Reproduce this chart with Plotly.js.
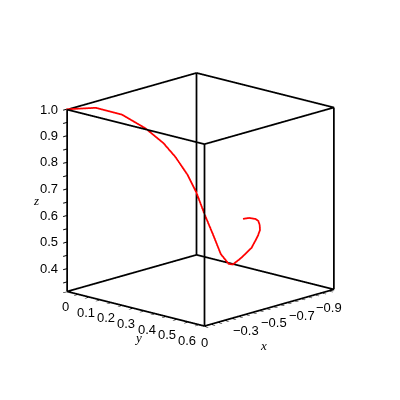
<!DOCTYPE html>
<html><head><meta charset="utf-8">
<script src="https://cdn.plot.ly/plotly-3.0.1.min.js"></script>
<style>html,body{margin:0;padding:0;background:#fff}#c{width:400px;height:400px}</style>
</head><body><div id="c"></div>
<script>
var curveX=[0,-0.122,-0.230,-0.321,-0.380,-0.417,-0.444,-0.459,-0.469,-0.477,-0.495,-0.522,-0.541,-0.596,-0.698,-0.784,-0.822,-0.845,-0.861,-0.864,-0.860,-0.855];
var curveY=[0,0.056,0.107,0.157,0.201,0.232,0.270,0.301,0.332,0.364,0.389,0.408,0.414,0.414,0.401,0.376,0.361,0.345,0.329,0.314,0.288,0.263];
var curveZ=[1,0.999,0.968,0.913,0.858,0.807,0.744,0.681,0.604,0.536,0.463,0.426,0.422,0.436,0.459,0.487,0.500,0.512,0.521,0.525,0.524,0.516];
var xTicks=[0,-0.05,-0.1,-0.15,-0.2,-0.25,-0.3,-0.35,-0.4,-0.45,-0.5,-0.55,-0.6,-0.65,-0.7,-0.75,-0.8,-0.85,-0.9];
var yTicks=[0,0.05,0.1,0.15,0.2,0.25,0.3,0.35,0.4,0.45,0.5,0.55,0.6];
var zTicks=[0.35,0.4,0.45,0.5,0.55,0.6,0.65,0.7,0.75,0.8,0.85,0.9,0.95,1.0];
var xLabelVals=[0,-0.3,-0.5,-0.7,-0.9], xLabelText=['0','−0.3','−0.5','−0.7','−0.9'];
var yLabelVals=[0,0.1,0.2,0.3,0.4,0.5,0.6], yLabelText=['0','0.1','0.2','0.3','0.4','0.5','0.6'];
var zLabelVals=[0.4,0.5,0.6,0.7,0.8,0.9,1.0], zLabelText=['0.4','0.5','0.6','0.7','0.8','0.9','1.0'];
var xRange=[-0.937,0], yRange=[0,0.627], zRange=[0.313,1];
function inset(r){var d=(r[1]-r[0])*0.002;return [r[0]+d,r[1]-d];}
var xE=inset(xRange), yE=inset(yRange), zE=inset(zRange);
function clamp(v,e){return Math.max(e[0],Math.min(e[1],v));}
var ex=[],ey=[],ez=[];
function edge(a,b,c,d,e,f){ex.push(xE[a],xE[d],null);ey.push(yE[b],yE[e],null);ez.push(zE[c],zE[f],null);}
[0,1].forEach(function(i){[0,1].forEach(function(j){
  edge(0,i,j,1,i,j);edge(i,0,j,i,1,j);edge(i,j,0,i,j,1);});});
var font={family:'Liberation Sans',size:13,color:'#000'};
var sceneNotes=[];
zLabelVals.forEach(function(v,i){sceneNotes.push({x:xE[1],y:yE[0],z:clamp(v,zE),text:zLabelText[i],showarrow:false,
  xanchor:'right',xshift:-7,font:font});});
yLabelVals.forEach(function(v,i){sceneNotes.push({x:xE[1],y:clamp(v,yE),z:zE[0],text:yLabelText[i],showarrow:false,
  xshift:-1-17*v,yshift:-16,font:font});});
xLabelVals.forEach(function(v,i){sceneNotes.push({x:clamp(v,xE),y:yE[1],z:zE[0],text:xLabelText[i],showarrow:false,
  xshift:1,yshift:-17,font:font});});
function ax(range,tv){return {
  title:{text:''},
  range:range,autorange:false,tickmode:'array',tickvals:tv,showticklabels:false,
  ticks:'outside',ticklen:5,tickwidth:2,tickcolor:'#000',
  showline:false,showgrid:false,zeroline:false,showbackground:false,showspikes:false};}
function lab(t,px,py){return {text:'<i>'+t+'</i>',xref:'paper',yref:'paper',x:px/400,y:1-py/400,showarrow:false,
  font:{family:'Liberation Serif',size:13,color:'#000'}};}
Plotly.newPlot('c',[
 {type:'scatter3d',mode:'lines',x:ex,y:ey,z:ez,connectgaps:false,line:{color:'#000',width:3.5},hoverinfo:'skip'},
 {type:'scatter3d',mode:'lines',x:curveX,y:curveY,z:curveZ,line:{color:'#ff0000',width:3.5},hoverinfo:'skip'}],
 {width:400,height:400,margin:{l:0,r:0,t:0,b:0},paper_bgcolor:'#fff',showlegend:false,
  annotations:[lab('x',269,355),lab('y',132,347),lab('z',31,201)],
  scene:{domain:{x:[0.0265,0.9735],y:[0.029,0.976]},
    xaxis:ax(xRange,xTicks),
    yaxis:ax(yRange,yTicks),
    zaxis:ax(zRange,zTicks),
    aspectmode:'cube',annotations:sceneNotes,
    camera:{eye:{x:1.335,y:1.258,z:0.508},up:{x:0,y:0,z:1},center:{x:0,y:0,z:0},projection:{type:'orthographic'}}}},
 {displayModeBar:false});
</script></body></html>
